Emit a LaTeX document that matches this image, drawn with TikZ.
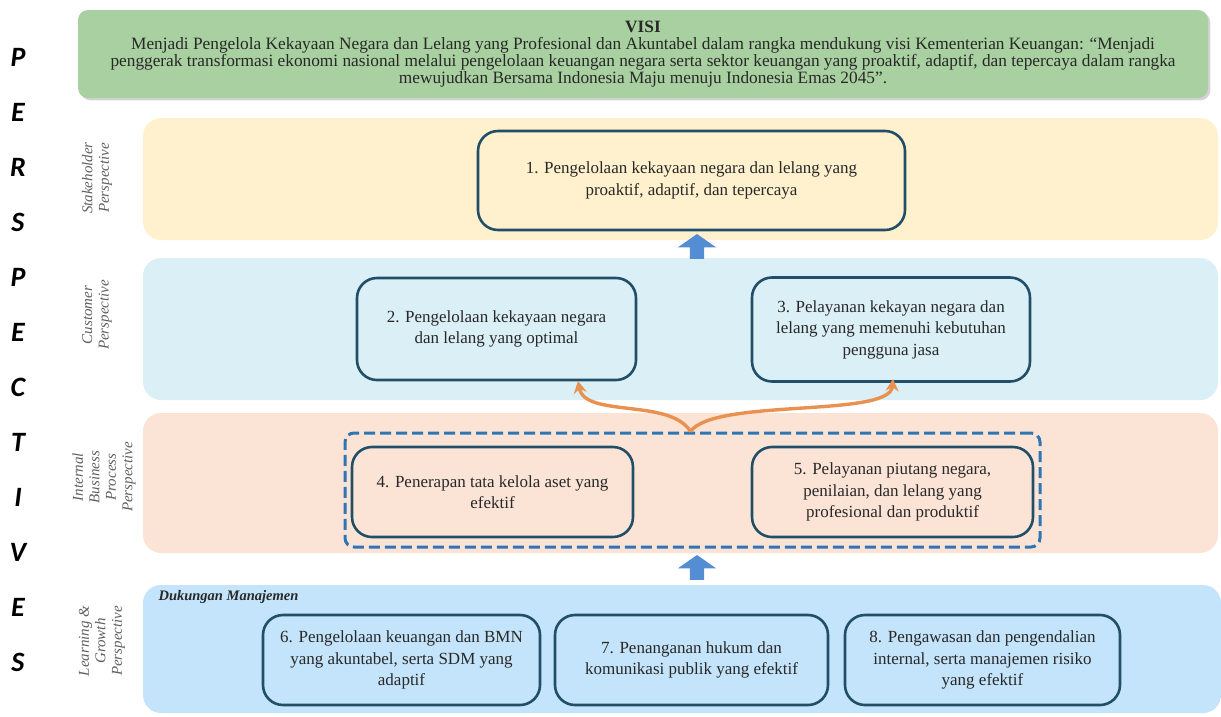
\documentclass[tikz,border=0pt]{standalone}
\usepackage{fontspec}
\setmainfont{Liberation Serif}
\newfontfamily\letterfont{Carlito}
\usepackage{tikz}
\usetikzlibrary{shapes.arrows,arrows.meta,shadows}
\definecolor{visigreen}{RGB}{169,208,160}
\definecolor{stakeyellow}{RGB}{255,241,206}
\definecolor{custcyan}{RGB}{219,239,246}
\definecolor{intpeach}{RGB}{251,228,214}
\definecolor{learnblue}{RGB}{195,228,250}
\definecolor{boxline}{RGB}{33,79,104}
\definecolor{dashblue}{RGB}{46,117,182}
\definecolor{arrowblue}{RGB}{84,141,212}
\definecolor{curveorange}{RGB}{232,145,80}
\definecolor{labelgray}{RGB}{95,95,95}
\definecolor{textdark}{RGB}{40,40,40}

\tikzset{
  band/.style={fill=#1, rounded corners=18pt, inner sep=0pt},
  goal/.style={draw=boxline, line width=2.6pt, rounded corners=20pt, align=center,
    text=textdark, inner sep=0pt, font=\fontsize{17}{21.5}\selectfont},
  persp/.style={rotate=90, align=center, text=labelgray, font=\itshape\fontsize{15}{16.5}\selectfont},
  letter/.style={font=\letterfont\bfseries\itshape\fontsize{28}{28}\selectfont},
  uparrow/.style={single arrow, fill=arrowblue, rotate=90, inner sep=7pt,
    minimum height=25pt, single arrow head extend=12pt, single arrow tip angle=110},
  curve/.style={draw=curveorange, line width=3.4pt, -{Stealth[length=12pt,width=13pt]}}
}

\begin{document}
\begin{tikzpicture}[x=1pt,y=-1pt]
  \useasboundingbox (0,0) rectangle (1221,716);
  % vision
  \node[band=visigreen, rounded corners=10pt, drop shadow={opacity=0.35},
    minimum width=1130pt, minimum height=88pt, align=center, text=textdark,
    font=\fontsize{17.3}{17}\selectfont] (visi) at (643,54)
    {\textbf{VISI}\\
     Menjadi Pengelola Kekayaan Negara dan Lelang yang Profesional dan Akuntabel dalam rangka mendukung visi Kementerian Keuangan: ``Menjadi\\
     penggerak transformasi ekonomi nasional melalui pengelolaan keuangan negara serta sektor keuangan yang proaktif, adaptif, dan tepercaya dalam rangka\\
     mewujudkan Bersama Indonesia Maju menuju Indonesia Emas 2045''.};

  % perspective bands
  \node[band=stakeyellow, minimum width=1075pt, minimum height=122pt] (stake) at (680.5,179) {};
  \node[band=custcyan, minimum width=1075pt, minimum height=142pt] (cust) at (680.5,329) {};
  \node[band=intpeach, minimum width=1075pt, minimum height=140pt] (intern) at (680.5,483) {};
  \node[band=learnblue, minimum width=1078pt, minimum height=128pt] (learn) at (682,649) {};

  % side letters
  \foreach \l [count=\i] in {P,E,R,S,P,E,C,T,I,V,E,S}
    \node[letter] (l\i) at (18,2+55*\i) {\l};

  \node[persp] (pstake) at (97,178) {Stakeholder\\Perspective};
  \node[persp] (pcust) at (97,315) {Customer\\Perspective};
  \node[persp] (pint) at (104,477) {Internal\\Business\\Process\\Perspective};
  \node[persp] (plearn) at (102,641) {Learning \&\\Growth\\Perspective};

  % objectives
  \node[goal, minimum width=427pt, minimum height=99pt] (o1) at (691.5,180.5)
    {1. Pengelolaan kekayaan negara dan lelang yang\\proaktif, adaptif, dan tepercaya};
  \node[goal, minimum width=279pt, minimum height=102pt] (o2) at (496.5,329)
    {2. Pengelolaan kekayaan negara\\dan lelang yang optimal};
  \node[goal, minimum width=278pt, minimum height=104pt] (o3) at (891,329.5)
    {3. Pelayanan kekayan negara dan\\lelang yang memenuhi kebutuhan\\pengguna jasa};

  \node[draw=dashblue, line width=3pt, dash pattern=on 11pt off 5pt, rounded corners=9pt,
    minimum width=695pt, minimum height=114pt, inner sep=0pt] (grp) at (692.5,490) {};
  \node[goal, minimum width=281pt, minimum height=90pt] (o4) at (492.5,492)
    {4. Penerapan tata kelola aset yang\\efektif};
  \node[goal, minimum width=281pt, minimum height=90pt] (o5) at (892.5,492)
    {5. Pelayanan piutang negara,\\penilaian, dan lelang yang\\profesional dan produktif};

  \node[anchor=west, text=textdark, font=\bfseries\itshape\fontsize{14.5}{16}\selectfont] (dukungan) at (155,597)
    {Dukungan Manajemen};
  \node[goal, minimum width=277pt, minimum height=90pt] (o6) at (401.5,660)
    {6. Pengelolaan keuangan dan BMN\\yang akuntabel, serta SDM yang\\adaptif};
  \node[goal, minimum width=273pt, minimum height=90pt] (o7) at (691.5,660)
    {7. Penanganan hukum dan\\komunikasi publik yang efektif};
  \node[goal, minimum width=275pt, minimum height=90pt] (o8) at (982.5,660)
    {8. Pengawasan dan pengendalian\\internal, serta manajemen risiko\\yang efektif};

  % links
  \node[uparrow] (up1) at (697,249) {};
  \node[uparrow] (up2) at (697,570) {};
  \coordinate (fork) at ([xshift=-2pt]grp.north);
  \coordinate (tipL) at (578,381);
  \coordinate (tipR) at (893,379);
  \draw[curve] (fork) .. controls (670,398) and (585,418) .. (tipL);
  \draw[curve] (fork) .. controls (714,398) and (890,418) .. (tipR);
\end{tikzpicture}
\end{document}
